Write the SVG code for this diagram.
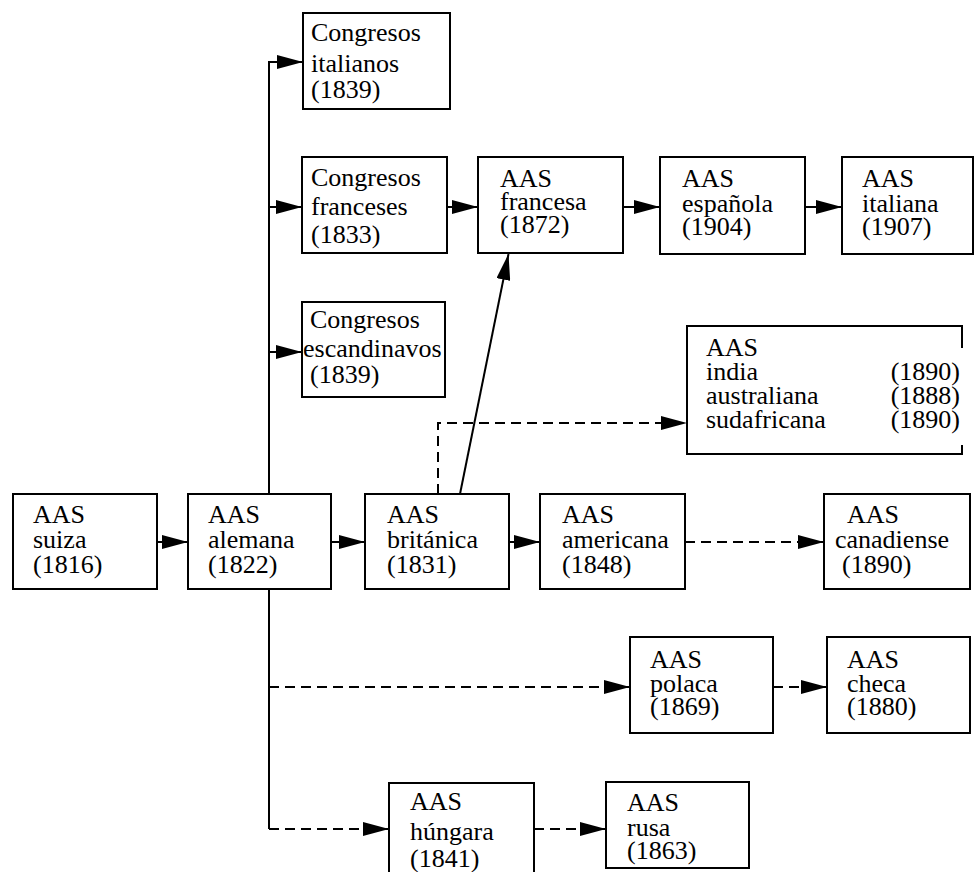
<svg xmlns="http://www.w3.org/2000/svg" width="974" height="872" viewBox="0 0 974 872">
<style>
.box{fill:#fff;stroke:#000;stroke-width:2}
.t{font-family:"Liberation Serif","Times New Roman",serif;font-size:26px;fill:#000}
.e{text-anchor:end}
.ln{fill:none;stroke:#000;stroke-width:2}
.ds{fill:none;stroke:#000;stroke-width:2;stroke-dasharray:10,6}
</style>
<defs>
<marker id="ah" viewBox="0 0 26 14" refX="26" refY="7" markerWidth="26" markerHeight="14" markerUnits="userSpaceOnUse" orient="auto">
<path d="M0,0 L26,7 L0,14 z" fill="#000"/>
</marker>
</defs>
<rect width="974" height="872" fill="#fff"/>
<g id="connectors">
<path class="ln" d="M157,542 H188" marker-end="url(#ah)"/>
<path class="ln" d="M331,542 H365" marker-end="url(#ah)"/>
<path class="ln" d="M509,542 H540" marker-end="url(#ah)"/>
<path class="ds" d="M685,542 H824" marker-end="url(#ah)"/>
<path class="ln" d="M269,494 V62 H303" marker-end="url(#ah)"/>
<path class="ln" d="M269,207 H302" marker-end="url(#ah)"/>
<path class="ln" d="M269,352 H302" marker-end="url(#ah)"/>
<path class="ln" d="M269,589 V829"/>
<path class="ds" d="M269,829 H389" marker-end="url(#ah)"/>
<path class="ds" d="M269,687 H630" marker-end="url(#ah)"/>
<path class="ln" d="M447,207 H478" marker-end="url(#ah)"/>
<path class="ln" d="M623,207 H660" marker-end="url(#ah)"/>
<path class="ln" d="M805,207 H842" marker-end="url(#ah)"/>
<path class="ln" d="M460,494 L508.5,254" marker-end="url(#ah)"/>
<path class="ds" d="M438,494 V423 H687" marker-end="url(#ah)"/>
<path class="ds" d="M773,687 H827" marker-end="url(#ah)"/>
<path class="ds" d="M534,829 H606" marker-end="url(#ah)"/>
</g>
<g id="suiza"><rect class="box" x="13" y="494" width="144" height="95"/>
<text class="t" x="33" y="523">AAS</text><text class="t" x="33" y="548">suiza</text><text class="t" x="33" y="573">(1816)</text></g>
<g id="alemana"><rect class="box" x="188" y="494" width="143" height="95"/>
<text class="t" x="208" y="523">AAS</text><text class="t" x="208" y="548">alemana</text><text class="t" x="208" y="573">(1822)</text></g>
<g id="britanica"><rect class="box" x="365" y="494" width="144" height="95"/>
<text class="t" x="387" y="523">AAS</text><text class="t" x="387" y="548">británica</text><text class="t" x="387" y="573">(1831)</text></g>
<g id="americana"><rect class="box" x="540" y="494" width="145" height="95"/>
<text class="t" x="562" y="523">AAS</text><text class="t" x="562" y="548">americana</text><text class="t" x="562" y="573">(1848)</text></g>
<g id="canadiense"><rect class="box" x="824" y="494" width="146" height="95"/>
<text class="t" x="847" y="523">AAS</text><text class="t" x="835" y="548">canadiense</text><text class="t" x="842" y="573">(1890)</text></g>
<g id="polaca"><rect class="box" x="630" y="637" width="143" height="96"/>
<text class="t" x="650" y="668">AAS</text><text class="t" x="650" y="692">polaca</text><text class="t" x="650" y="715">(1869)</text></g>
<g id="checa"><rect class="box" x="827" y="637" width="143" height="96"/>
<text class="t" x="847" y="668">AAS</text><text class="t" x="847" y="692">checa</text><text class="t" x="847" y="715">(1880)</text></g>
<g id="hungara"><rect class="box" x="389" y="783" width="145" height="100"/>
<text class="t" x="410" y="810">AAS</text><text class="t" x="410" y="840">húngara</text><text class="t" x="410" y="867">(1841)</text></g>
<g id="rusa"><rect class="box" x="606" y="782" width="143" height="86"/>
<text class="t" x="627" y="811">AAS</text><text class="t" x="627" y="836">rusa</text><text class="t" x="627" y="859">(1863)</text></g>
<g id="congresos-italianos"><rect class="box" x="303" y="13" width="147" height="96"/>
<text class="t" x="311" y="41">Congresos</text><text class="t" x="311" y="72">italianos</text><text class="t" x="311" y="98">(1839)</text></g>
<g id="congresos-franceses"><rect class="box" x="302" y="157" width="145" height="96"/>
<text class="t" x="311" y="186">Congresos</text><text class="t" x="311" y="215">franceses</text><text class="t" x="311" y="243">(1833)</text></g>
<g id="francesa"><rect class="box" x="478" y="157" width="145" height="96"/>
<text class="t" x="500" y="187">AAS</text><text class="t" x="500" y="210">francesa</text><text class="t" x="500" y="233">(1872)</text></g>
<g id="espanola"><rect class="box" x="660" y="157" width="145" height="97"/>
<text class="t" x="682" y="187">AAS</text><text class="t" x="682" y="212">española</text><text class="t" x="682" y="235">(1904)</text></g>
<g id="italiana"><rect class="box" x="842" y="157" width="131" height="97"/>
<text class="t" x="862" y="187">AAS</text><text class="t" x="862" y="212">italiana</text><text class="t" x="862" y="235">(1907)</text></g>
<g id="congresos-escandinavos"><rect class="box" x="302" y="302" width="143" height="95"/>
<text class="t" x="310" y="328">Congresos</text><text class="t" x="303" y="357">escandinavos</text><text class="t" x="310" y="383">(1839)</text></g>
<g id="commonwealth"><rect x="687" y="326" width="275" height="128" fill="#fff"/>
<path class="ln" d="M962,348 V326 H687 V454 H962 V445"/>
<text class="t" x="706" y="356">AAS</text>
<text class="t" x="706" y="380">india</text><text class="t e" x="960" y="380">(1890)</text>
<text class="t" x="706" y="404">australiana</text><text class="t e" x="960" y="404">(1888)</text>
<text class="t" x="706" y="428">sudafricana</text><text class="t e" x="960" y="428">(1890)</text></g>
</svg>
